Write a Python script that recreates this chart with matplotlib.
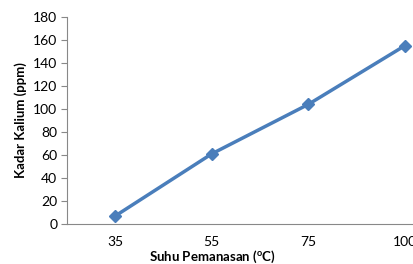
import matplotlib
matplotlib.use("Agg")
import matplotlib.pyplot as plt

categories = ["35", "55", "75", "100"]
values = [7, 61, 104, 155]
yticks = [0, 20, 40, 60, 80, 100, 120, 140, 160, 180]

plt.rcParams['font.family'] = ['Lato', 'DejaVu Sans']
fig = plt.figure(figsize=(4.14, 2.64), dpi=100)
ax = fig.add_axes([67/414, 40/264, 386/414, 207/264])
x = list(range(len(categories)))
ax.plot(x, values, color='#4A7EBB', lw=2.5, marker='D', ms=6, mfc='#4A7EBB', mec='#4A7EBB')
ax.set_xlim(-0.5, 3.5)
ax.set_ylim(0, 180)
ax.set_yticks(yticks)
ax.set_xticks(x)
ax.set_xticklabels(categories)
for s in ['top', 'right']:
    ax.spines[s].set_visible(False)
for s in ['left', 'bottom']:
    ax.spines[s].set_color('#888888')
    ax.spines[s].set_linewidth(0.8)
ax.tick_params(axis='y', length=4, color='#888888', labelsize=10, pad=3)
ax.tick_params(axis='x', length=0, labelsize=10, pad=9)
ax.set_ylabel('Kadar Kalium (ppm)', fontsize=9.5, fontweight='bold', labelpad=4)
ax.set_xlabel('Suhu Pemanasan ($^{\\mathregular{o}}$C)', fontsize=9.5, fontweight='bold')
ax.xaxis.set_label_coords(145/386, -0.12)
fig.savefig('out.png', dpi=100)
